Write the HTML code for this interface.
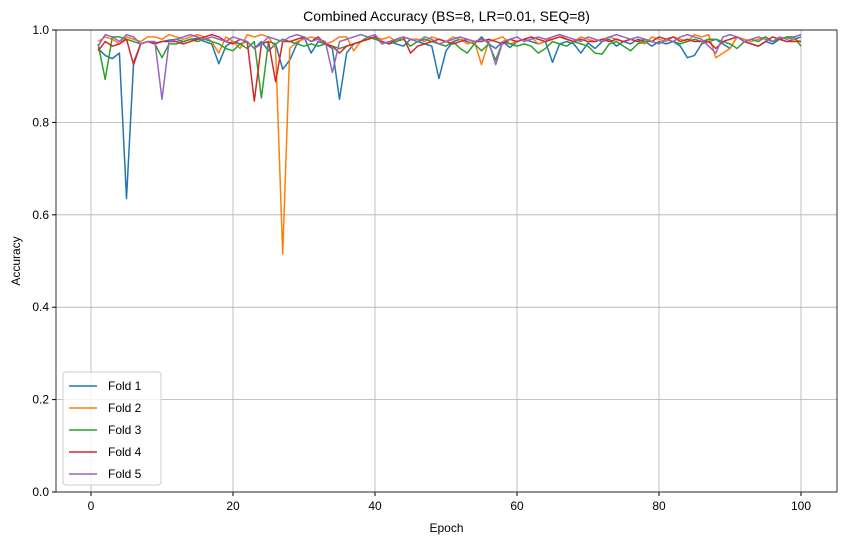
<!DOCTYPE html>
<html><head><meta charset="utf-8"><style>
body{margin:0;background:#fff;font-family:"Liberation Sans",sans-serif}
svg text{font-family:"Liberation Sans",sans-serif;fill:#000}
</style></head><body>
<svg id="chart" width="846" height="545" xmlns="http://www.w3.org/2000/svg"></svg>
<script>
const epochs = Array.from({length:100},(_,i)=>i+1);
const fold1 = [0.96,0.945,0.938,0.95,0.635,0.93,0.97,0.975,0.972,0.975,0.978,0.98,0.975,0.98,0.982,0.975,0.97,0.927,0.965,0.975,0.97,0.975,0.96,0.975,0.955,0.97,0.915,0.935,0.97,0.985,0.95,0.975,0.97,0.96,0.85,0.95,0.97,0.975,0.98,0.985,0.97,0.975,0.97,0.965,0.98,0.975,0.97,0.965,0.895,0.955,0.975,0.98,0.975,0.97,0.985,0.97,0.96,0.975,0.962,0.975,0.98,0.975,0.97,0.975,0.93,0.97,0.975,0.97,0.95,0.972,0.96,0.975,0.98,0.965,0.975,0.97,0.98,0.975,0.965,0.975,0.97,0.975,0.965,0.94,0.945,0.97,0.975,0.98,0.97,0.96,0.985,0.975,0.97,0.965,0.975,0.97,0.98,0.975,0.98,0.985];
const fold2 = [0.975,0.985,0.98,0.97,0.985,0.98,0.975,0.985,0.985,0.98,0.99,0.985,0.98,0.985,0.99,0.985,0.975,0.95,0.985,0.975,0.96,0.99,0.985,0.99,0.985,0.96,0.515,0.96,0.975,0.98,0.985,0.98,0.97,0.975,0.985,0.985,0.955,0.975,0.98,0.985,0.98,0.985,0.975,0.985,0.98,0.98,0.975,0.985,0.98,0.975,0.985,0.98,0.97,0.975,0.925,0.975,0.98,0.985,0.97,0.975,0.98,0.985,0.97,0.975,0.985,0.99,0.98,0.975,0.985,0.98,0.975,0.98,0.985,0.98,0.975,0.98,0.975,0.97,0.985,0.98,0.975,0.985,0.98,0.975,0.99,0.985,0.99,0.94,0.95,0.96,0.985,0.98,0.975,0.98,0.985,0.975,0.98,0.985,0.98,0.975];
const fold3 = [0.97,0.893,0.985,0.985,0.98,0.975,0.97,0.975,0.97,0.94,0.97,0.97,0.975,0.98,0.975,0.98,0.975,0.97,0.96,0.955,0.97,0.96,0.975,0.853,0.975,0.97,0.98,0.975,0.97,0.965,0.97,0.965,0.97,0.965,0.96,0.965,0.97,0.975,0.985,0.98,0.975,0.97,0.975,0.98,0.965,0.975,0.98,0.975,0.97,0.965,0.975,0.96,0.95,0.97,0.955,0.97,0.935,0.975,0.97,0.965,0.97,0.965,0.95,0.96,0.975,0.97,0.965,0.975,0.97,0.965,0.95,0.948,0.97,0.975,0.965,0.955,0.97,0.975,0.975,0.97,0.98,0.975,0.97,0.975,0.98,0.975,0.98,0.98,0.975,0.97,0.96,0.975,0.98,0.975,0.985,0.975,0.98,0.985,0.985,0.965];
const fold4 = [0.955,0.975,0.965,0.97,0.98,0.925,0.97,0.975,0.97,0.975,0.975,0.975,0.97,0.975,0.98,0.985,0.99,0.985,0.975,0.97,0.98,0.975,0.846,0.97,0.975,0.888,0.975,0.975,0.98,0.985,0.975,0.985,0.97,0.965,0.95,0.965,0.97,0.975,0.98,0.985,0.975,0.97,0.98,0.985,0.95,0.965,0.97,0.975,0.98,0.975,0.97,0.975,0.98,0.975,0.975,0.98,0.975,0.97,0.98,0.975,0.98,0.985,0.98,0.975,0.98,0.985,0.98,0.975,0.98,0.975,0.975,0.98,0.975,0.98,0.975,0.98,0.975,0.98,0.975,0.985,0.98,0.985,0.975,0.98,0.975,0.975,0.975,0.96,0.975,0.98,0.985,0.975,0.97,0.965,0.975,0.985,0.98,0.975,0.975,0.975];
const fold5 = [0.965,0.99,0.985,0.975,0.99,0.985,0.97,0.975,0.975,0.85,0.975,0.98,0.985,0.99,0.985,0.98,0.985,0.98,0.975,0.985,0.98,0.975,0.96,0.97,0.985,0.98,0.975,0.985,0.99,0.985,0.975,0.98,0.975,0.908,0.975,0.98,0.985,0.99,0.985,0.99,0.97,0.975,0.98,0.985,0.98,0.975,0.985,0.98,0.97,0.975,0.98,0.985,0.98,0.975,0.98,0.975,0.925,0.975,0.98,0.985,0.975,0.98,0.985,0.98,0.985,0.99,0.985,0.98,0.975,0.985,0.98,0.975,0.985,0.99,0.985,0.98,0.985,0.98,0.975,0.97,0.98,0.975,0.985,0.99,0.985,0.98,0.965,0.95,0.985,0.99,0.985,0.975,0.98,0.985,0.98,0.975,0.985,0.98,0.985,0.99];
const series = [["Fold 1",fold1,"#1f77b4"],["Fold 2",fold2,"#ff7f0e"],["Fold 3",fold3,"#2ca02c"],["Fold 4",fold4,"#d62728"],["Fold 5",fold5,"#9467bd"]];
const xTicks=[0,20,40,60,80,100];
const yTicks=[0.0,0.2,0.4,0.6,0.8,1.0];
const L=56,R=837,T=30,B=492;
const xs=v=>91+(v-0)*7.1;
const ys=v=>B-(v)*(B-T);
const svg=document.getElementById('chart');
const NS='http://www.w3.org/2000/svg';
function mk(t,a,p){const e=document.createElementNS(NS,t);for(const k in a)e.setAttribute(k,a[k]);(p||svg).appendChild(e);return e;}
let e;
xTicks.forEach(t=>{e=mk('line',{x1:xs(t),x2:xs(t),y1:T,y2:B,stroke:'#b0b0b0','stroke-width':0.8});

mk('line',{x1:xs(t),x2:xs(t),y1:B,y2:B+4,stroke:'#000'});
e=mk('text',{x:xs(t),y:B+18,'text-anchor':'middle','font-size':12});e.textContent=t;
});
yTicks.forEach(t=>{e=mk('line',{x1:L,x2:R,y1:ys(t),y2:ys(t),stroke:'#b0b0b0','stroke-width':0.8});

mk('line',{x1:L-4,x2:L,y1:ys(t),y2:ys(t),stroke:'#000'});
e=mk('text',{x:L-7,y:ys(t)+4,'text-anchor':'end','font-size':12});e.textContent=t.toFixed(1);
});
series.forEach(([n,d,c])=>{e=mk('polyline',{points:d.map((v,i)=>xs(epochs[i])+','+ys(v)).join(' '),fill:'none',stroke:c,'stroke-width':1.5,'stroke-linejoin':'round'});
});
e=mk('rect',{x:L,y:T,width:R-L,height:B-T,fill:'none',stroke:'#000','stroke-width':0.8});

e=mk('text',{x:(L+R)/2,y:21,'text-anchor':'middle','font-size':14});e.textContent='Combined Accuracy (BS=8, LR=0.01, SEQ=8)';

e=mk('text',{x:(L+R)/2,y:532,'text-anchor':'middle','font-size':12});e.textContent='Epoch';

e=mk('text',{x:20,y:(T+B)/2,'text-anchor':'middle','font-size':12,transform:'rotate(-90 20 '+((T+B)/2)+')'});e.textContent='Accuracy';

const lg=mk('g',{});
mk('rect',{x:63,y:372,width:98,height:113,rx:3,fill:'#fff',stroke:'#ccc','fill-opacity':0.8},lg);
series.forEach(([n,d,c],i)=>{const y=386+i*22;
const g=mk('g',{},lg);
mk('line',{x1:69,x2:97,y1:y,y2:y,stroke:c,'stroke-width':1.5},g);
const t=mk('text',{x:108,y:y+4,'font-size':12},g);t.textContent=n;});
</script>
</body></html>
